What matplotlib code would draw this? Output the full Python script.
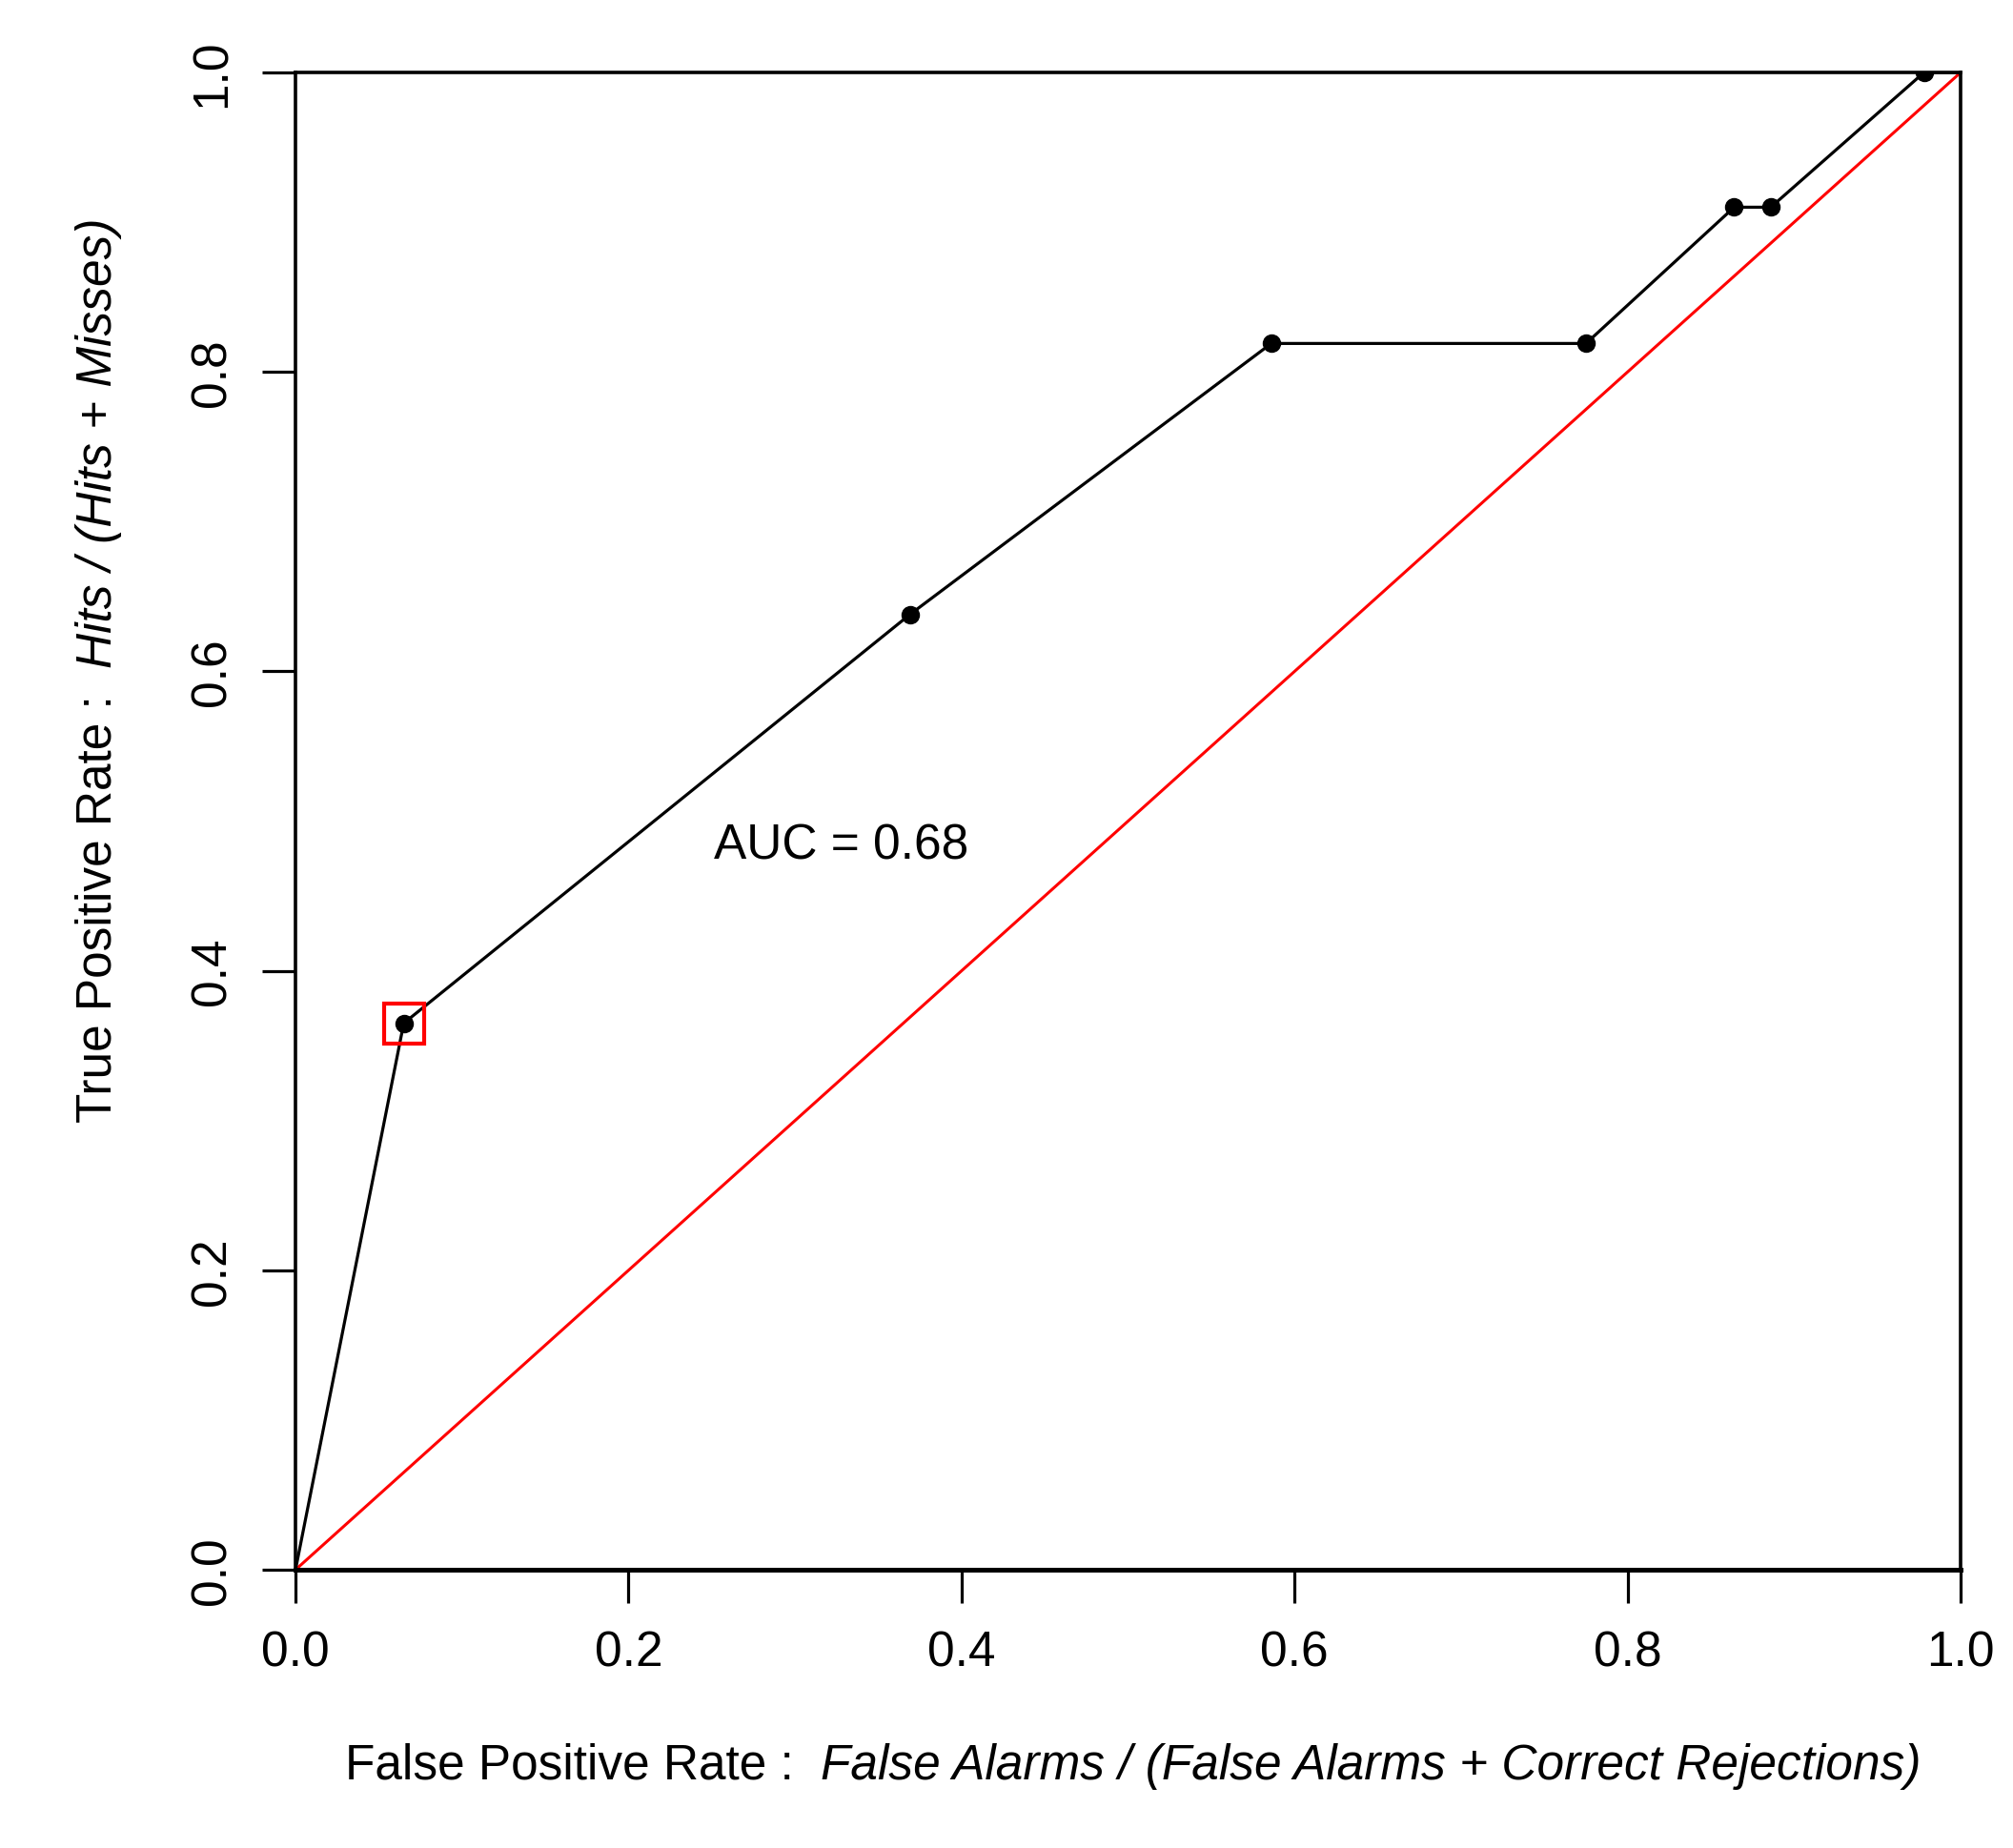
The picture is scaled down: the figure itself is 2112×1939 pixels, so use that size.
import matplotlib
import matplotlib.pyplot as plt
from matplotlib.transforms import IdentityTransform

matplotlib.use("Agg")

plt.rcParams["font.family"] = ["Liberation Sans", "DejaVu Sans"]

# ROC points
fpr = [0.0, 0.065, 0.369, 0.586, 0.775, 0.864, 0.886, 0.978, 1.0]
tpr = [0.0, 0.365, 0.638, 0.819, 0.819, 0.910, 0.910, 1.0, 1.0]
marked = [1, 2, 3, 4, 5, 6, 7]  # indices drawn with a dot
best_idx = 1                     # point highlighted by the red square
auc_text = "AUC = 0.68"
ticks = [0.0, 0.2, 0.4, 0.6, 0.8, 1.0]
tick_labels = ["0.0", "0.2", "0.4", "0.6", "0.8", "1.0"]
xlab_plain, xlab_italic = "False Positive Rate :", "False Alarms / (False Alarms + Correct Rejections)"
ylab_plain, ylab_italic = "True Positive Rate :", "Hits / (Hits + Misses)"

FS = 37

fig = plt.figure(figsize=(21.12, 19.40), dpi=100)
ax = fig.add_axes([0.1468, 0.1505, 0.8272, 0.8098])

ax.plot([0, 1], [0, 1], color="red", linewidth=2.2)
ax.plot(fpr, tpr, color="black", linewidth=2.3)
ax.plot([fpr[i] for i in marked], [tpr[i] for i in marked], "o",
        color="black", markersize=13)
ax.plot(fpr[best_idx], tpr[best_idx], "s", markersize=30,
        markerfacecolor="none", markeredgecolor="red", markeredgewidth=3)

ax.text(0.328, 0.484, auc_text, fontsize=FS, ha="center", va="center")

ax.set_xlim(0, 1)
ax.set_ylim(0, 1)
ax.set_xticks(ticks)
ax.set_xticklabels(tick_labels)
ax.set_yticks(ticks)
ax.set_yticklabels(tick_labels, rotation=90, va="center")
ax.tick_params(direction="out", length=25, width=2.3, labelsize=FS, pad=20)

for side in ["top", "left", "right"]:
    ax.spines[side].set_linewidth(2.6)
ax.spines["bottom"].set_linewidth(3.6)


def text_width(s, style):
    renderer = fig.canvas.get_renderer()
    t = fig.text(0, 0, s, fontsize=FS, style=style)
    w = t.get_window_extent(renderer).width
    t.remove()
    return w


def mixed_label(plain, italic, cx, cy, vertical):
    # plain part then italic part, centred on (cx, cy) in axes fraction
    w1 = text_width(plain, "normal")
    gap = text_width("a  a", "normal") - text_width("aa", "normal")
    w2 = text_width(italic, "italic")
    px, py = ax.transAxes.transform((cx, cy))
    start = (py if vertical else px) - (w1 + gap + w2) / 2
    for s, style, off in [(plain, "normal", 0), (italic, "italic", w1 + gap)]:
        if vertical:
            fig.text(px, start + off, s, fontsize=FS, style=style, rotation=90,
                     ha="center", va="bottom", transform=IdentityTransform())
        else:
            fig.text(start + off, py, s, fontsize=FS, style=style,
                     ha="left", va="center", transform=IdentityTransform())


mixed_label(xlab_plain, xlab_italic, 0.503, -0.1305, False)
mixed_label(ylab_plain, ylab_italic, -0.1184, 0.6015, True)

fig.savefig("out.png", dpi=100)
plt.close(fig)
